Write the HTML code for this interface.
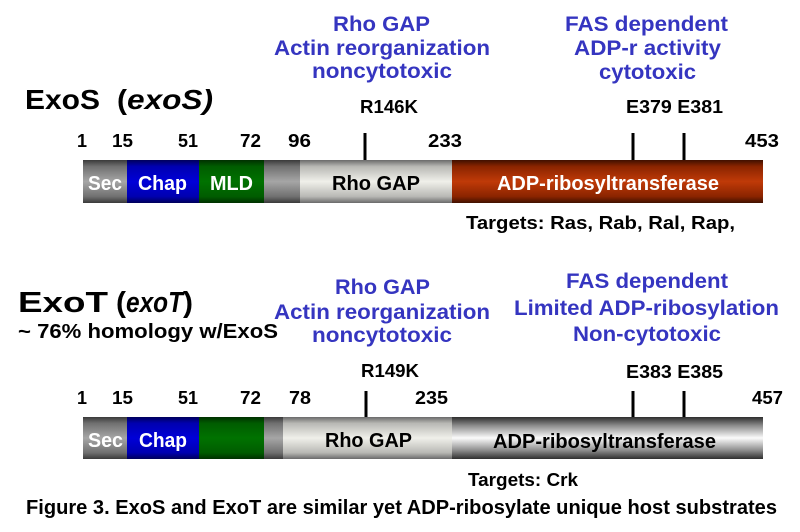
<!DOCTYPE html>
<html><head><meta charset="utf-8"><style>
html,body{margin:0;padding:0;background:#fff;}
svg{display:block;}
text{font-family:"Liberation Sans",Arial,sans-serif;font-weight:bold;}
.b{fill:#3535c0;font-size:21px;}
.k{fill:#000;font-size:18px;}
.n{fill:#000;font-size:18px;}
.w{fill:#fff;font-size:20px;}
.d{fill:#000;font-size:20px;}
</style></head><body>
<svg width="800" height="532" viewBox="0 0 800 532" xmlns="http://www.w3.org/2000/svg">
<defs>
<linearGradient id="gGrey" x1="0" y1="0" x2="0" y2="1">
<stop offset="0" stop-color="#3a3a3a"/><stop offset="0.15" stop-color="#707070"/><stop offset="0.5" stop-color="#a6a6a6"/><stop offset="0.85" stop-color="#707070"/><stop offset="1" stop-color="#3a3a3a"/></linearGradient>
<linearGradient id="gBlue" x1="0" y1="0" x2="0" y2="1">
<stop offset="0" stop-color="#00005a"/><stop offset="0.15" stop-color="#0000b0"/><stop offset="0.5" stop-color="#0000d8"/><stop offset="0.85" stop-color="#0000b0"/><stop offset="1" stop-color="#00005a"/></linearGradient>
<linearGradient id="gGreen" x1="0" y1="0" x2="0" y2="1">
<stop offset="0" stop-color="#003000"/><stop offset="0.15" stop-color="#005c00"/><stop offset="0.5" stop-color="#007200"/><stop offset="0.85" stop-color="#005c00"/><stop offset="1" stop-color="#003000"/></linearGradient>
<linearGradient id="gLight" x1="0" y1="0" x2="0" y2="1">
<stop offset="0" stop-color="#6a6a6a"/><stop offset="0.15" stop-color="#b8b8b4"/><stop offset="0.5" stop-color="#f0f0ea"/><stop offset="0.85" stop-color="#b8b8b4"/><stop offset="1" stop-color="#6a6a6a"/></linearGradient>
<linearGradient id="gRed" x1="0" y1="0" x2="0" y2="1">
<stop offset="0" stop-color="#401000"/><stop offset="0.15" stop-color="#8a2400"/><stop offset="0.5" stop-color="#c03a08"/><stop offset="0.85" stop-color="#8a2400"/><stop offset="1" stop-color="#401000"/></linearGradient>
<linearGradient id="gSilver" x1="0" y1="0" x2="0" y2="1">
<stop offset="0" stop-color="#2e2e2e"/><stop offset="0.2" stop-color="#8a8a8a"/><stop offset="0.5" stop-color="#fbfbfb"/><stop offset="0.8" stop-color="#8a8a8a"/><stop offset="1" stop-color="#2e2e2e"/></linearGradient>
</defs>

<!-- ===== ExoS ===== -->
<text x="25" y="109" font-size="28" textLength="75" lengthAdjust="spacingAndGlyphs">ExoS</text>
<text x="117" y="109" font-size="28" textLength="10" lengthAdjust="spacingAndGlyphs">(</text>
<text x="127" y="109" font-size="28" font-style="italic" textLength="86" lengthAdjust="spacingAndGlyphs">exoS)</text>

<text class="b" x="333" y="31" textLength="97" lengthAdjust="spacingAndGlyphs">Rho GAP</text>
<text class="b" x="274" y="55" textLength="216" lengthAdjust="spacingAndGlyphs">Actin reorganization</text>
<text class="b" x="312" y="78" textLength="140" lengthAdjust="spacingAndGlyphs">noncytotoxic</text>
<text class="b" x="565" y="31" textLength="163" lengthAdjust="spacingAndGlyphs">FAS dependent</text>
<text class="b" x="574" y="55" textLength="147" lengthAdjust="spacingAndGlyphs">ADP-r activity</text>
<text class="b" x="599" y="79" textLength="97" lengthAdjust="spacingAndGlyphs">cytotoxic</text>

<text class="k" x="360" y="113" textLength="58" lengthAdjust="spacingAndGlyphs">R146K</text>
<text class="k" x="626" y="113" textLength="97" lengthAdjust="spacingAndGlyphs">E379 E381</text>

<text class="n" x="77" y="147">1</text>
<text class="n" x="112" y="147" textLength="21" lengthAdjust="spacingAndGlyphs">15</text>
<text class="n" x="178" y="147" textLength="20" lengthAdjust="spacingAndGlyphs">51</text>
<text class="n" x="240" y="147" textLength="21" lengthAdjust="spacingAndGlyphs">72</text>
<text class="n" x="288" y="147" textLength="23" lengthAdjust="spacingAndGlyphs">96</text>
<text class="n" x="428" y="147" textLength="34" lengthAdjust="spacingAndGlyphs">233</text>
<text class="n" x="745" y="147" textLength="34" lengthAdjust="spacingAndGlyphs">453</text>

<rect x="363.5" y="133" width="3" height="27" fill="#000"/>
<rect x="631.5" y="133" width="3" height="27" fill="#000"/>
<rect x="682.5" y="133" width="3" height="27" fill="#000"/>

<rect x="83" y="160" width="44" height="43" fill="url(#gGrey)"/>
<rect x="127" y="160" width="72" height="43" fill="url(#gBlue)"/>
<rect x="199" y="160" width="65" height="43" fill="url(#gGreen)"/>
<rect x="264" y="160" width="36" height="43" fill="url(#gGrey)"/>
<rect x="300" y="160" width="152" height="43" fill="url(#gLight)"/>
<rect x="452" y="160" width="311" height="43" fill="url(#gRed)"/>

<text class="w" x="88" y="190" fill="#eee" textLength="34" lengthAdjust="spacingAndGlyphs">Sec</text>
<text class="w" x="138" y="190" textLength="49" lengthAdjust="spacingAndGlyphs">Chap</text>
<text class="w" x="210" y="190" textLength="43" lengthAdjust="spacingAndGlyphs">MLD</text>
<text class="d" x="332" y="190" textLength="88" lengthAdjust="spacingAndGlyphs">Rho GAP</text>
<text class="w" x="497" y="190" textLength="222" lengthAdjust="spacingAndGlyphs">ADP-ribosyltransferase</text>

<text class="k" x="466" y="229" font-size="17" textLength="269" lengthAdjust="spacingAndGlyphs">Targets: Ras, Rab, Ral, Rap,</text>

<!-- ===== ExoT ===== -->
<text x="18" y="312" font-size="29" textLength="90" lengthAdjust="spacingAndGlyphs">ExoT</text>
<text x="116" y="312" font-size="29" textLength="10" lengthAdjust="spacingAndGlyphs">(</text>
<text x="126" y="312" font-size="29" font-style="italic" textLength="57" lengthAdjust="spacingAndGlyphs">exoT</text>
<text x="183" y="312" font-size="29" textLength="10" lengthAdjust="spacingAndGlyphs">)</text>
<text x="18" y="338" font-size="20" textLength="260" lengthAdjust="spacingAndGlyphs">~ 76% homology w/ExoS</text>

<text class="b" x="335" y="294" textLength="95" lengthAdjust="spacingAndGlyphs">Rho GAP</text>
<text class="b" x="274" y="319" textLength="216" lengthAdjust="spacingAndGlyphs">Actin reorganization</text>
<text class="b" x="312" y="342" textLength="140" lengthAdjust="spacingAndGlyphs">noncytotoxic</text>
<text class="b" x="566" y="288" textLength="162" lengthAdjust="spacingAndGlyphs">FAS dependent</text>
<text class="b" x="514" y="315" textLength="265" lengthAdjust="spacingAndGlyphs">Limited ADP-ribosylation</text>
<text class="b" x="573" y="341" textLength="148" lengthAdjust="spacingAndGlyphs">Non-cytotoxic</text>

<text class="k" x="361" y="377" textLength="58" lengthAdjust="spacingAndGlyphs">R149K</text>
<text class="k" x="626" y="378" textLength="97" lengthAdjust="spacingAndGlyphs">E383 E385</text>

<text class="n" x="77" y="404">1</text>
<text class="n" x="112" y="404" textLength="21" lengthAdjust="spacingAndGlyphs">15</text>
<text class="n" x="178" y="404" textLength="20" lengthAdjust="spacingAndGlyphs">51</text>
<text class="n" x="240" y="404" textLength="21" lengthAdjust="spacingAndGlyphs">72</text>
<text class="n" x="289" y="404" textLength="22" lengthAdjust="spacingAndGlyphs">78</text>
<text class="n" x="415" y="404" textLength="33" lengthAdjust="spacingAndGlyphs">235</text>
<text class="n" x="752" y="404" textLength="31" lengthAdjust="spacingAndGlyphs">457</text>

<rect x="364.5" y="391" width="3" height="26" fill="#000"/>
<rect x="631.5" y="391" width="3" height="26" fill="#000"/>
<rect x="682.5" y="391" width="3" height="26" fill="#000"/>

<rect x="83" y="417" width="44" height="42" fill="url(#gGrey)"/>
<rect x="127" y="417" width="72" height="42" fill="url(#gBlue)"/>
<rect x="199" y="417" width="65" height="42" fill="url(#gGreen)"/>
<rect x="264" y="417" width="19" height="42" fill="url(#gGrey)"/>
<rect x="283" y="417" width="169" height="42" fill="url(#gLight)"/>
<rect x="452" y="417" width="311" height="42" fill="url(#gSilver)"/>

<text class="w" x="88" y="447" fill="#eee" textLength="35" lengthAdjust="spacingAndGlyphs">Sec</text>
<text class="w" x="139" y="447" textLength="48" lengthAdjust="spacingAndGlyphs">Chap</text>
<text class="d" x="325" y="447" textLength="87" lengthAdjust="spacingAndGlyphs">Rho GAP</text>
<text class="d" x="493" y="448" textLength="223" lengthAdjust="spacingAndGlyphs">ADP-ribosyltransferase</text>

<text class="k" x="468" y="486" font-size="18" textLength="110" lengthAdjust="spacingAndGlyphs">Targets: Crk</text>

<text x="26" y="514" font-size="20" textLength="751" lengthAdjust="spacingAndGlyphs">Figure 3. ExoS and ExoT are similar yet ADP-ribosylate unique host substrates</text>
</svg>
</body></html>
